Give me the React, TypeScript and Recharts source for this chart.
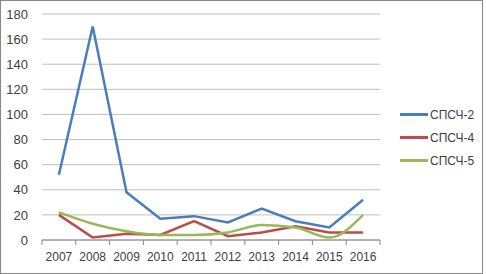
import { CartesianGrid, Line, LineChart, XAxis, YAxis } from "recharts"

const years = ["2007", "2008", "2009", "2010", "2011", "2012", "2013", "2014", "2015", "2016"]
const spsch2 = [52, 170, 38, 17, 19, 14, 25, 15, 10, 32]
const spsch4 = [20, 2, 5, 4, 15, 3, 6, 11, 6, 6]
const spsch5 = [22, 13, 7, 4, 4, 6, 12, 10, 2, 20]
const yTicks = [0, 20, 40, 60, 80, 100, 120, 140, 160, 180]

const series = [
  { key: "s2", name: "СПСЧ-2", color: "#4a7ebb", values: spsch2, smooth: false },
  { key: "s4", name: "СПСЧ-4", color: "#be4b48", values: spsch4, smooth: false },
  { key: "s5", name: "СПСЧ-5", color: "#98b954", values: spsch5, smooth: true },
]

const data = years.map((year, i) => ({
  year,
  s2: spsch2[i],
  s4: spsch4[i],
  s5: spsch5[i],
}))

const W = 483
const H = 274
const margin = { top: 14, right: 103, bottom: 4, left: 0 }
const yAxisW = 42
const band = (W - margin.left - margin.right - yAxisW) / years.length
const font = "'Liberation Sans', Arial, sans-serif"
const textColor = "#404040"

function YearTick(props: any) {
  const { x, y, payload, index } = props
  const half = band / 2
  return (
    <g>
      <line x1={x - half} x2={x - half} y1={y - 8} y2={y - 3} stroke="#868686" />
      {index === years.length - 1 && (
        <line x1={x + half} x2={x + half} y1={y - 8} y2={y - 3} stroke="#868686" />
      )}
      <text x={x} y={y + 13} textAnchor="middle" fontSize={12} fill={textColor} fontFamily={font}>
        {payload.value}
      </text>
    </g>
  )
}

function SideLegend() {
  return (
    <div style={{ position: "absolute", left: 400, top: 103, fontFamily: font, fontSize: 12, color: textColor }}>
      {series.map((s) => (
        <div key={s.key} style={{ display: "flex", alignItems: "center", height: 23 }}>
          <div style={{ width: 28, height: 3, background: s.color, marginRight: 2 }} />
          <span>{s.name}</span>
        </div>
      ))}
    </div>
  )
}

export default function App() {
  return (
    <div style={{ position: "absolute", left: 0, top: 0, width: W, height: H }}>
      <div
        style={{
          position: "absolute",
          left: 0,
          top: 0,
          width: W - 2,
          height: H - 2,
          border: "1px solid #868686",
        }}
      />
      <LineChart width={W} height={H} data={data} margin={margin}>
        <CartesianGrid vertical={false} stroke="#bfbfbf" />
        <XAxis
          dataKey="year"
          scale="band"
          height={30}
          axisLine={{ stroke: "#868686" }}
          tickLine={false}
          tick={<YearTick />}
          interval={0}
        />
        <YAxis
          width={yAxisW}
          domain={[0, 180]}
          ticks={yTicks}
          axisLine={false}
          tickLine={false}
          tickMargin={8}
          tick={{ fontSize: 13, fill: textColor, fontFamily: font }}
        />
        {series.map((s) => (
          <Line
            key={s.key}
            dataKey={s.key}
            name={s.name}
            type={s.smooth ? "monotone" : "linear"}
            stroke={s.color}
            strokeWidth={2.5}
            dot={false}
            isAnimationActive={false}
          />
        ))}
      </LineChart>
      <SideLegend />
    </div>
  )
}
